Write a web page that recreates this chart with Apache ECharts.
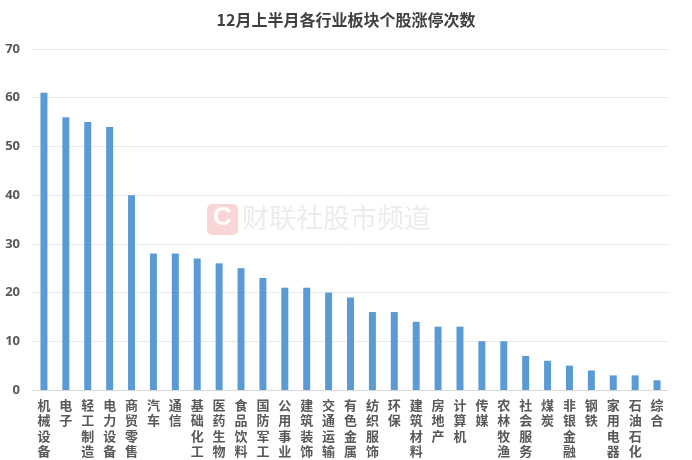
<!DOCTYPE html>
<html><head><meta charset="utf-8">
<script src="https://cdn.jsdelivr.net/npm/echarts@6/dist/echarts.min.js"></script>
<style>html,body{margin:0;padding:0;background:#fff}#c{width:692px;height:460px}</style>
</head><body><div id="c"></div>
<script>
const categories = ['机械设备','电子','轻工制造','电力设备','商贸零售','汽车','通信','基础化工','医药生物','食品饮料','国防军工','公用事业','建筑装饰','交通运输','有色金属','纺织服饰','环保','建筑材料','房地产','计算机','传媒','农林牧渔','社会服务','煤炭','非银金融','钢铁','家用电器','石油石化','综合'];
const values = [61,56,55,54,40,28,28,27,26,25,23,21,21,20,19,16,16,14,13,13,10,10,7,6,5,4,3,3,2];
const yTicks = [0,10,20,30,40,50,60,70];
const titleText = '12月上半月各行业板块个股涨停次数';
const watermark = '财联社股市频道';

const chart = echarts.init(document.getElementById('c'));
chart.setOption({
  animation:false,
  title:{text:titleText,left:'center',top:7,textStyle:{fontSize:16,fontWeight:'bold',color:'#404040',fontFamily:'Noto Sans CJK SC'}},
  grid:{left:33,right:24,top:49,bottom:70,containLabel:false},
  graphic:[
    {type:'rect',left:207,top:204,shape:{width:31,height:31,r:5},style:{fill:'#f9d6d6'},z:0},
    {type:'text',left:213,top:205,style:{text:'C',fontSize:26,fontWeight:'bold',fill:'#ffffff',fontFamily:'Liberation Sans'},z:0},
    {type:'text',left:242,top:204,style:{text:watermark,fontSize:27,fill:'#ececec',fontFamily:'Noto Sans CJK SC'},z:0}
  ],
  xAxis:{type:'category',data:categories,
    axisLine:{lineStyle:{color:'#d9d9d9'}},axisTick:{show:false},
    axisLabel:{interval:0,margin:7,color:'#595959',fontSize:13,fontWeight:'bold',lineHeight:15.5,fontFamily:'Noto Sans CJK SC',verticalAlign:'top',
      formatter:v=>v.split('').join('\n')}},
  yAxis:{type:'value',min:yTicks[0],max:yTicks[yTicks.length-1],interval:10,
    axisLine:{show:false},axisTick:{show:false},
    axisLabel:{color:'#595959',fontSize:13,fontWeight:'bold',margin:13,fontFamily:'Open Sans'},
    splitLine:{lineStyle:{color:'#e9e9e9'}}},
  series:[{type:'bar',data:values,barWidth:7,itemStyle:{color:'#5b9bd5'},z:2}]
});
</script></body></html>
